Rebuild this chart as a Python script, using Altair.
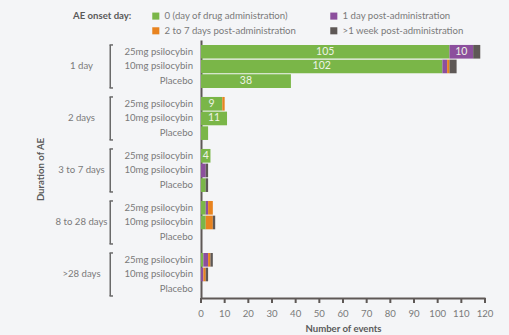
import altair as alt
import pandas as pd

durations = ["1 day", "2 days", "3 to 7 days", "8 to 28 days", ">28 days"]
treatments = ["25mg psilocybin", "10mg psilocybin", "Placebo"]
onsets = ["0 (day of drug administration)", "1 day post-administration",
          "2 to 7 days post-administration", ">1 week post-administration"]
colors = ["#7ab648", "#8c4f9d", "#e8831f", "#5e5856"]
x_ticks = [0, 10, 20, 30, 40, 50, 60, 70, 80, 90, 100, 110, 120]

# values per onset category, rows ordered duration x treatment
day0 = [105, 102, 38, 9, 11, 3, 4, 0, 2, 2, 2, 0, 1, 0, 0]
day1 = [10, 2, 0, 0, 0, 0, 0, 2, 0, 1, 0, 0, 2, 1, 0]
days2_7 = [0, 1, 0, 1, 0, 0, 0, 0, 0, 2, 3, 0, 1, 1, 0]
week1plus = [3, 3, 0, 0, 0, 0, 0, 1, 1, 0, 1, 0, 1, 1, 0]
series = [day0, day1, days2_7, week1plus]

rows = []
i = 0
for d in durations:
    for t in treatments:
        cum = 0
        for k, o in enumerate(onsets):
            v = series[k][i]
            rows.append({"dur": d, "treat": t, "onset": o, "order": k, "value": v,
                         "mid": cum + v / 2})
            cum += v
        i += 1
df = pd.DataFrame(rows)
labels_df = pd.DataFrame([{"dur": d, "treat": t} for d in durations for t in treatments])
dur_df = pd.DataFrame({"dur": durations})
vals_df = df[df["value"] >= 4]
ticks_df = pd.DataFrame({"t": x_ticks})

FONT = "Lato"
GRAY = "#7a7a7a"
DARK = "#5e5856"
FS = 9.6
H = 258

yscale = alt.Scale(domain=durations, paddingInner=0.173, paddingOuter=0.067, align=0.71)
xscale = alt.Scale(domain=[0, 120], nice=False)
yoff = alt.YOffset("treat:N", sort=treatments,
                   scale=alt.Scale(domain=treatments, paddingInner=0.07))

yaxis = alt.Axis(title="Duration of AE", labelAlign="center", labelPadding=120,
                 ticks=False, tickSize=0, domainColor=DARK, domainWidth=2,
                 labelColor=GRAY, labelFontSize=FS, labelFont=FONT,
                 titleColor="#5a5a5a", titleFontSize=FS, titleFont=FONT,
                 titleFontWeight="bold", titlePadding=10, grid=False)
xaxis = alt.Axis(title="Number of events", labels=False, ticks=False,
                 grid=False, domainColor=DARK, domainWidth=2,
                 titleColor="#5a5a5a", titleFontSize=FS,
                 titleFont=FONT, titleFontWeight="bold", titlePadding=25)

bars = alt.Chart(df).mark_bar().encode(
    x=alt.X("sum(value):Q", stack="zero", scale=xscale, axis=xaxis),
    y=alt.Y("dur:N", sort=durations, scale=yscale, axis=yaxis),
    yOffset=yoff,
    color=alt.Color("onset:N", sort=onsets,
                    scale=alt.Scale(domain=onsets, range=colors),
                    legend=alt.Legend(title="AE onset day:", orient="none",
                                      direction="horizontal",
                                      legendX=-128, legendY=-29, columns=2,
                                      columnPadding=33, rowPadding=4,
                                      titleOrient="left", titleAnchor="start",
                                      titlePadding=19, symbolType="square",
                                      symbolSize=50, symbolStrokeWidth=0,
                                      labelColor=GRAY, labelFontSize=FS,
                                      labelFont=FONT, titleColor="#5a5a5a",
                                      titleFontSize=FS, titleFont=FONT,
                                      titleFontWeight="bold")),
    order=alt.Order("order:Q"),
)

vals = alt.Chart(vals_df).mark_text(color="#eef3e6", fontSize=10.5, font=FONT,
                                    baseline="middle").encode(
    x=alt.X("mid:Q", scale=xscale, axis=xaxis),
    y=alt.Y("dur:N", sort=durations),
    yOffset=yoff,
    text=alt.Text("value:Q"),
)

tick_marks = alt.Chart(ticks_df).mark_rule(color=DARK, strokeWidth=2).encode(
    x=alt.X("t:Q", scale=xscale, axis=xaxis),
    y=alt.value(H), y2=alt.value(H + 5),
)
tick_labels = alt.Chart(ticks_df).mark_text(color=GRAY, fontSize=FS, font=FONT,
                                            baseline="middle").encode(
    x=alt.X("t:Q", scale=xscale, axis=xaxis),
    y=alt.value(H + 16),
    text=alt.Text("t:Q"),
)

tlabels = alt.Chart(labels_df).mark_text(align="right", baseline="middle",
                                         color=GRAY, fontSize=FS, font=FONT).encode(
    x=alt.value(-8),
    y=alt.Y("dur:N", sort=durations),
    yOffset=yoff,
    text="treat:N",
)

bracket_v = alt.Chart(dur_df).mark_bar(color="#6a6a6a").encode(
    x=alt.value(-91.5), x2=alt.value(-90),
    y=alt.Y("dur:N", sort=durations),
)
bracket_top = alt.Chart(dur_df).mark_rule(color="#6a6a6a", strokeWidth=1.5).encode(
    x=alt.value(-91.5), x2=alt.value(-88),
    y=alt.Y("dur:N", sort=durations, bandPosition=0),
)
bracket_bot = alt.Chart(dur_df).mark_rule(color="#6a6a6a", strokeWidth=1.5).encode(
    x=alt.value(-91.5), x2=alt.value(-88),
    y=alt.Y("dur:N", sort=durations, bandPosition=1),
)

chart = alt.layer(bars, vals, tick_marks, tick_labels, tlabels,
                  bracket_v, bracket_top, bracket_bot).properties(
    width=284, height=H,
    autosize=alt.AutoSizeParams(type="none"),
    padding={"left": 201, "top": 40, "right": 24, "bottom": 37},
    background="#f4f5f7",
).configure_view(stroke=None).configure_axis(labelFont=FONT, titleFont=FONT)

chart.save("out.html", embed_options={"renderer": "svg", "actions": False})
